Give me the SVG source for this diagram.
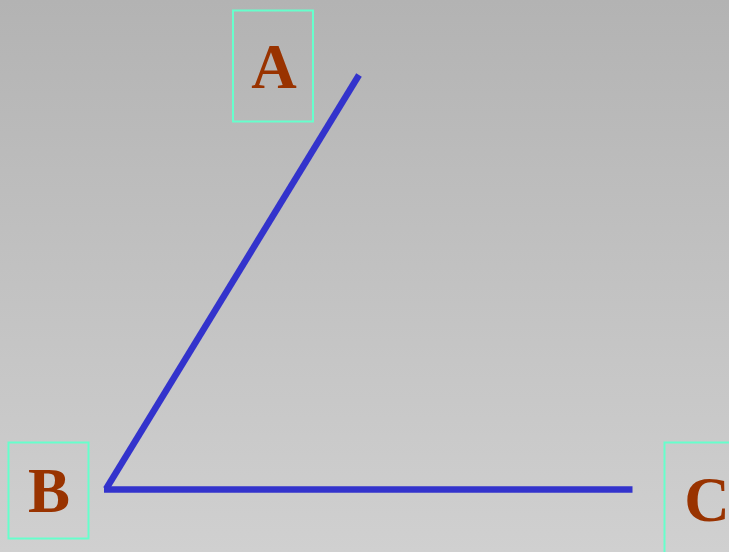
<svg xmlns="http://www.w3.org/2000/svg" width="729" height="552" viewBox="0 0 729 552">
<defs>
<linearGradient id="bg" x1="0" y1="0" x2="0" y2="1">
<stop offset="0" stop-color="#b3b3b3"/>
<stop offset="1" stop-color="#d0d0d0"/>
</linearGradient>
<style>
.box{fill:none;stroke:#66ffcc;stroke-width:2}
.lbl{font-family:"Liberation Serif","Times New Roman",serif;font-weight:bold;font-size:63px;fill:#993300;text-anchor:middle}
.ray{stroke:#3333cc;stroke-width:6.5;fill:none}
</style>
</defs>
<rect width="729" height="552" fill="url(#bg)"/>
<g id="connectors">
<line class="ray" x1="359" y1="75" x2="106" y2="489"/>
<line class="ray" x1="104" y1="489.5" x2="632.5" y2="489.5"/>
</g>
<g id="A">
<rect class="box" x="233" y="10.5" width="80" height="111"/>
<text class="lbl" x="274" y="88">A</text>
</g>
<g id="B">
<rect class="box" x="8.5" y="442.5" width="80" height="96"/>
<text class="lbl" x="49" y="512">B</text>
</g>
<g id="C">
<rect class="box" x="664.5" y="442.5" width="80" height="120"/>
<text class="lbl" x="707" y="521">C</text>
</g>
</svg>
